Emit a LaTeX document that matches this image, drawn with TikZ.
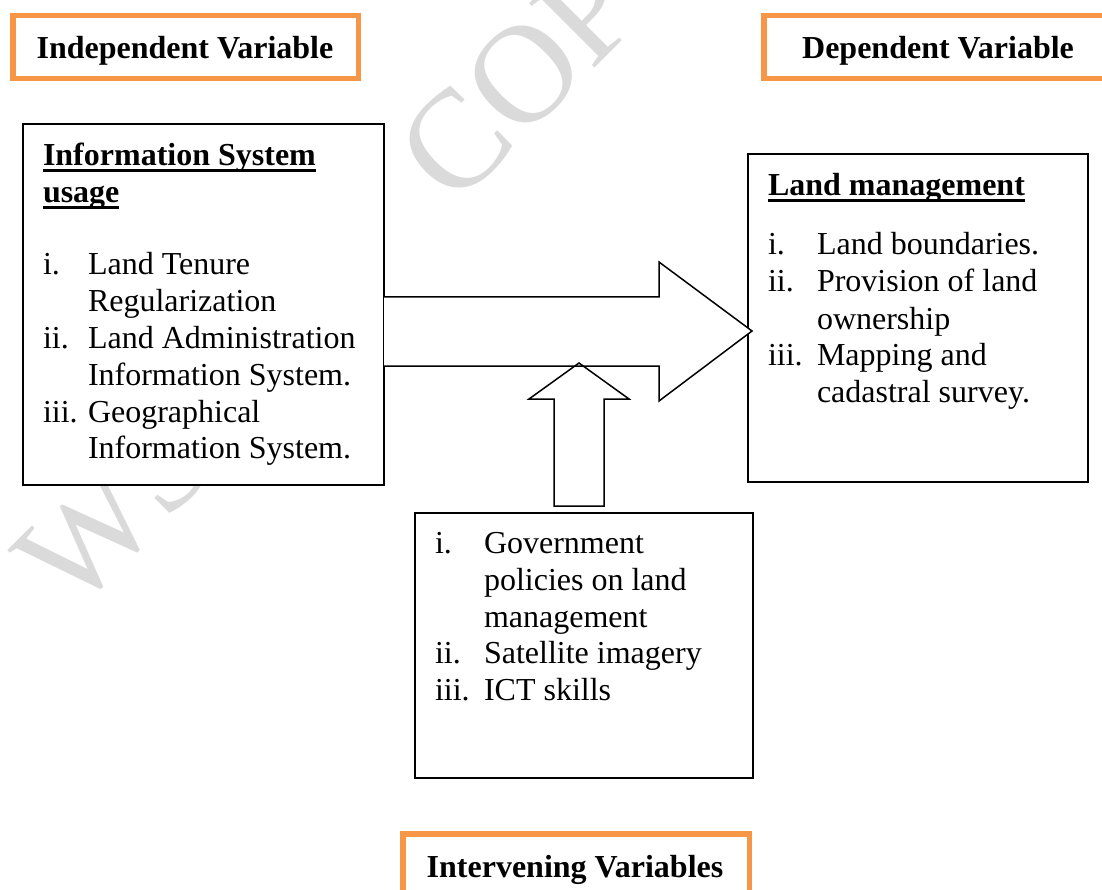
\documentclass[tikz,border=0pt]{standalone}
\usepackage{fontspec}
\setmainfont{Liberation Serif}
\definecolor{orng}{HTML}{F79646}
\definecolor{wmark}{HTML}{DADADA}
\tikzset{
  obox/.style={draw=orng, line width=5.5pt, fill=white, inner sep=0pt, outer sep=0pt, anchor=north west},
  kbox/.style={draw=black, line width=1.5pt, fill=white, inner sep=0pt, outer sep=0pt, anchor=north west},
  txt/.style={inner sep=0pt, outer sep=0pt, anchor=base west, font=\fontsize{32}{36.8}\selectfont},
  htxt/.style={inner sep=0pt, outer sep=0pt, anchor=base west, font=\fontsize{32}{36.8}\selectfont\bfseries},
  ctxt/.style={htxt, anchor=base},
  wm/.style={inner sep=0pt, outer sep=0pt, anchor=base west, rotate=45, text=wmark, font=\fontsize{140}{140}\selectfont},
  barrow/.style={draw=black, line width=1.5pt, fill=white, line join=miter},
  boutline/.style={draw=black, line width=1.5pt, line join=miter},
  uline/.style={line width=3pt},
}
\begin{document}
\begin{tikzpicture}[x=1pt,y=-1pt]
\useasboundingbox (0,0) rectangle (1102,890);
\clip (0,0) rectangle (1102,890);
% watermark
\node[wm] (wmW) at (72,615) {W};
\node[wm] (wmS) at (165,522) {S};
\node[wm] (wmC) at (454,209) {COPY};
% orange title boxes
\node[obox, minimum width=345.5, minimum height=63] (indep) at (12.75,15.75) {};
\node[obox, minimum width=360, minimum height=63] (dep) at (763.75,15.75) {};
\node[obox, minimum width=346.5, minimum height=80] (interv) at (402.75,833.75) {};
\node[ctxt] (indepT) at (185,59) {Independent Variable};
\node[ctxt] (depT) at (938,59) {Dependent Variable};
\node[ctxt] (intervT) at (575,877) {Intervening Variables};
% content boxes
\node[kbox, minimum width=361, minimum height=361] (lbox) at (23,124) {};
\node[kbox, minimum width=340, minimum height=328] (rbox) at (748,154) {};
\node[kbox, minimum width=338, minimum height=265] (bbox) at (415,513) {};
% block arrows
\coordinate (rtip) at (752,331);
\coordinate (utip) at (579,363);
\fill[white] (lbox.east |- 0,297) -- (659,297) -- (659,262) -- (rtip) -- (659,401) -- (659,366) -- (lbox.east |- 0,366) -- cycle;
\draw[barrow] (utip) -- (629,399) -- (604,399) -- (604,506) -- (554,506) -- (554,399) -- (529,399) -- cycle;
\draw[boutline] (lbox.east |- 0,297) -- (659,297) -- (659,262) -- (rtip) -- (659,401) -- (659,366) -- (lbox.east |- 0,366);
% left box text
\node[htxt] (lh1) at (43,166) {Information System};
\node[htxt] (lh2) at (43,203) {usage};
\draw[uline] ([yshift=-5pt]lh1.base west) -- ([yshift=-5pt]lh1.base east);
\draw[uline] ([yshift=-5pt]lh2.base west) -- ([yshift=-5pt]lh2.base east);
\node[txt] (l1a) at (43,275) {i.};
\node[txt] (l1b) at (88,275) {Land Tenure};
\node[txt] (l1c) at (88,312) {Regularization};
\node[txt] (l2a) at (43,348) {ii.};
\node[txt] (l2b) at (88,348) {Land Administration};
\node[txt] (l2c) at (88,385) {Information System.};
\node[txt] (l3a) at (43,422) {iii.};
\node[txt] (l3b) at (88,422) {Geographical};
\node[txt] (l3c) at (88,458) {Information System.};
% right box text
\node[htxt] (rh1) at (768,196) {Land management};
\draw[uline] ([yshift=-5pt]rh1.base west) -- ([yshift=-5pt]rh1.base east);
\node[txt] (r1a) at (768,255) {i.};
\node[txt] (r1b) at (817,255) {Land boundaries.};
\node[txt] (r2a) at (768,292) {ii.};
\node[txt] (r2b) at (817,292) {Provision of land};
\node[txt] (r2c) at (817,329) {ownership};
\node[txt] (r3a) at (768,365) {iii.};
\node[txt] (r3b) at (817,365) {Mapping and};
\node[txt] (r3c) at (817,402) {cadastral survey.};
% bottom box text
\node[txt] (b1a) at (435,553) {i.};
\node[txt] (b1b) at (484,553) {Government};
\node[txt] (b1c) at (484,590) {policies on land};
\node[txt] (b1d) at (484,627) {management};
\node[txt] (b2a) at (435,663) {ii.};
\node[txt] (b2b) at (484,663) {Satellite imagery};
\node[txt] (b3a) at (435,700) {iii.};
\node[txt] (b3b) at (484,700) {ICT skills};
\end{tikzpicture}
\end{document}
